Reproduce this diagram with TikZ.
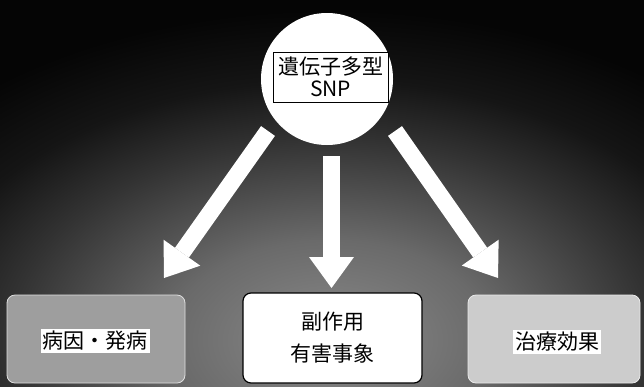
\documentclass[tikz,border=0pt]{standalone}
\usepackage{fontspec}
\setmainfont{Noto Sans CJK JP}
\usetikzlibrary{arrows.meta}
\definecolor{bgcA}{HTML}{8A8A8A}
\definecolor{bgcB}{HTML}{6A6A6A}
\definecolor{bgcC}{HTML}{333333}
\definecolor{bgcD}{HTML}{151515}
\definecolor{bgcE}{HTML}{050505}
\pgfdeclareradialshading{bgshade}{\pgfpoint{0bp}{0bp}}{color(0bp)=(bgcA); color(7.35bp)=(bgcB); color(14.7bp)=(bgcC); color(19.1bp)=(bgcD); color(24.3bp)=(bgcE); color(50bp)=(bgcE)}
\tikzset{
  bigarrow/.style={draw=white, line width=17pt, line cap=butt,
    -{Triangle[width=45pt,length=31pt,line width=0pt]}},
  boxnode/.style={rounded corners=8pt, minimum width=178pt, minimum height=88pt, inner sep=0pt},
  tag/.style={fill=white, inner sep=2pt, font=\fontsize{21}{24}\selectfont},
}
\begin{document}
\begin{tikzpicture}[x=1pt,y=-1pt]
\useasboundingbox (0,0) rectangle (644,386);
\begin{scope}
  \clip (0,0) rectangle (644,386);
  \fill[bgcE] (0,0) rectangle (644,386);
  \begin{scope}[shift={(330,340)}, xscale=1.6]
    \shade[shading=bgshade] (0,0) circle (340);
  \end{scope}
\end{scope}

% top circle
\node[circle, fill=white, minimum size=132pt, inner sep=0pt] (snp) at (327,79) {};
\node[draw=black, line width=0.8pt, fill=white, align=center,
      font=\fontsize{21}{22}\selectfont, inner sep=2pt,
      minimum width=115pt, minimum height=50pt] (snpt) at (330.5,77) {遺伝子多型\\SNP};

% boxes
\node[boxnode, fill=black!38, draw=black!12, line width=0.8pt] (L) at (96,339) {};
\node[tag] (Lt) at (95,341) {病因・発病};
\node[boxnode, fill=white, draw=black, line width=1.2pt, minimum width=179pt, minimum height=90pt,
      align=center, font=\fontsize{21}{32}\selectfont] (M) at (332.5,338) {副作用\\有害事象};
\node[boxnode, fill=black!20, draw=black!8, line width=0.8pt, minimum width=172pt] (R) at (554,339) {};
\node[tag] (Rt) at (557,342) {治療効果};

% arrows
\coordinate (aLs) at (268,131);
\coordinate (aLe) at (164,278);
\coordinate (aMs) at (331.5,156);
\coordinate (aMe) at (331.5,288);
\coordinate (aRs) at (395,131);
\coordinate (aRe) at (498,278);
\draw[bigarrow] (aLs) -- (aLe);
\draw[bigarrow] (aMs) -- (aMe);
\draw[bigarrow] (aRs) -- (aRe);
\end{tikzpicture}
\end{document}
